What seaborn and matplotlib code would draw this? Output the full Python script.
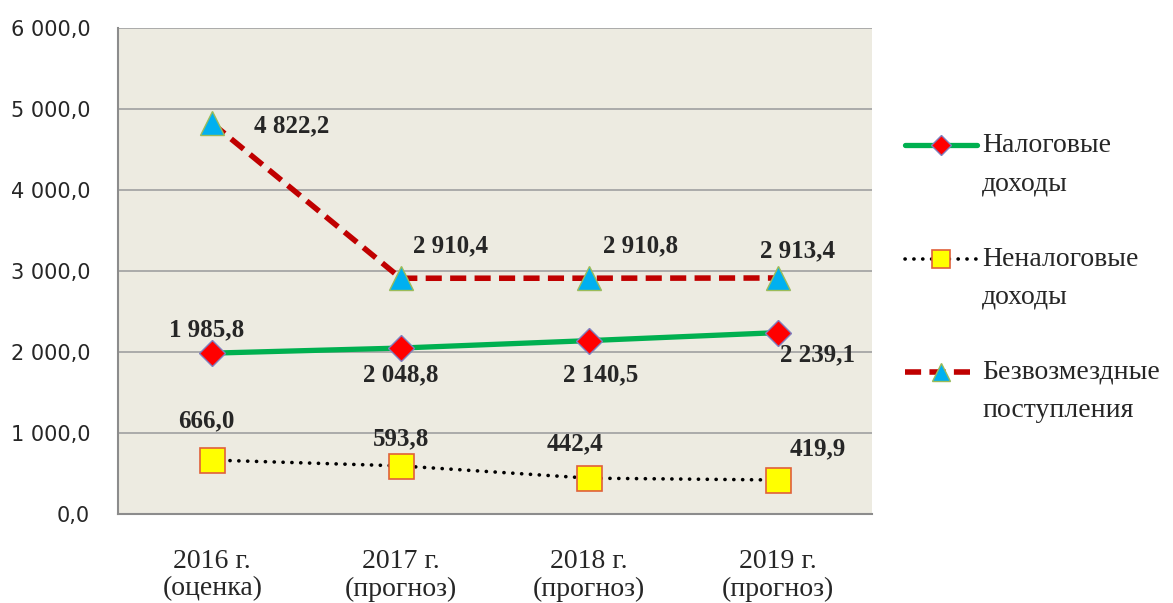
import matplotlib
matplotlib.use('Agg')
import matplotlib.pyplot as plt
from matplotlib.legend_handler import HandlerLine2D
import seaborn as sns
import pandas as pd

categories = ['2016 г.\n(оценка)', '2017 г.\n(прогноз)', '2018 г.\n(прогноз)', '2019 г.\n(прогноз)']
tax_income = [1985.8, 2048.8, 2140.5, 2239.1]
nontax_income = [666.0, 593.8, 442.4, 419.9]
grants = [4822.2, 2910.4, 2910.8, 2913.4]
series_names = ['Налоговые\nдоходы', 'Неналоговые\nдоходы', 'Безвозмездные\nпоступления']

# label offsets in pixels (dx, dy) per point
tax_offsets = [(-6, 23), (0, -27), (11, -34), (40, -22)]
nontax_offsets = [(-6, 39), (0, 27), (-14, 34), (40, 31)]
grant_offsets = [(79, -2), (50, 32), (51, 32), (20, 27)]


def fmt(v):
    return f"{v:,.1f}".replace(',', ' ').replace('.', ',')


class FirstLineHandler(HandlerLine2D):
    """Puts the legend handle at the level of the first label line"""
    def create_artists(self, legend, orig_handle, xdescent, ydescent, width, height, fontsize, trans):
        artists = super().create_artists(legend, orig_handle, xdescent, ydescent, width, height, fontsize, trans)
        for a in artists:
            a.set_ydata([y + 14 for y in a.get_ydata()])
        return artists


df = pd.DataFrame({
    'x': list(range(4)) * 3,
    'value': tax_income + nontax_income + grants,
    'series': [series_names[0]] * 4 + [series_names[1]] * 4 + [series_names[2]] * 4,
})

sns.set_style('white')
plt.rcParams['font.family'] = ['Liberation Serif', 'DejaVu Serif']

fig = plt.figure(figsize=(11.73, 6.03), dpi=100)
ax = fig.add_axes([0.1006, 0.1476, 0.6428, 0.806])
ax.set_facecolor('#EDEBE1')

styles = {
    series_names[0]: dict(color='#00B050', lw=3.8, ls='-', marker='D', ms=13,
                          mfc='#FF0000', mec='#7F7FBF', mew=1.0),
    series_names[1]: dict(color='black', lw=2.6, ls=(0, (0.05, 2.4)), marker='s', ms=18,
                          mfc='#FFFF00', mec='#E0603A', mew=1.2, dash_capstyle='round'),
    series_names[2]: dict(color='#C00000', lw=4.0, ls=(0, (2.9, 1.5)), marker='^', ms=17,
                          mfc='#00B0F0', mec='#9BBB59', mew=1.0),
}

for name in series_names:
    sub = df[df['series'] == name]
    st = styles[name]
    sns.lineplot(data=sub, x='x', y='value', ax=ax, color=st['color'], linewidth=st['lw'],
                 zorder=3, legend=False)
    line = ax.lines[-1]
    line.set_linestyle(st['ls'])
    if 'dash_capstyle' in st:
        line.set_dash_capstyle(st['dash_capstyle'])
    line.set_marker(st['marker'])
    line.set_markersize(st['ms'])
    line.set_markerfacecolor(st['mfc'])
    line.set_markeredgecolor(st['mec'])
    line.set_markeredgewidth(st['mew'])

for vals, offs in [(tax_income, tax_offsets), (nontax_income, nontax_offsets), (grants, grant_offsets)]:
    for i, (v, o) in enumerate(zip(vals, offs)):
        ax.annotate(fmt(v), (i, v), xytext=o, textcoords='offset pixels',
                    ha='center', va='center', fontsize=18, fontweight='bold', zorder=5)

ax.set_xlim(-0.5, 3.5)
ax.set_ylim(0, 6000)
ax.set_yticks(range(0, 6001, 1000))
ax.set_yticklabels([fmt(v) for v in range(0, 6001, 1000)], family='DejaVu Sans', fontsize=15)
ax.set_xticks(range(4))
ax.set_xticklabels(categories, fontsize=20, linespacing=1.15)
ax.set_xticks([-0.5, 0.5, 1.5, 2.5, 3.5], minor=True)
ax.tick_params(axis='x', which='major', length=0, pad=25)
ax.tick_params(axis='x', which='minor', length=9, color='#8C8C8C', width=1.5)
ax.tick_params(axis='y', length=9, color='#8C8C8C', width=1.5, pad=11)
ax.set_xlabel('')
ax.set_ylabel('')
ax.grid(axis='y', color='#A6A6A6', lw=1.3)
ax.set_axisbelow(True)
for s in ['top', 'right']:
    ax.spines[s].set_visible(False)
for s in ['left', 'bottom']:
    ax.spines[s].set_color('#8C8C8C')
    ax.spines[s].set_linewidth(1.5)

handles = ax.get_lines()[:3]
leg = fig.legend(handles, series_names, loc='upper left', bbox_to_anchor=(0.7595, 0.802),
                 frameon=False, fontsize=20, handlelength=2.6, handletextpad=0.18,
                 labelspacing=1.8, borderpad=0, markerscale=0.75,
                 handler_map={h: FirstLineHandler() for h in handles})
for t in leg.get_texts():
    t.set_linespacing(1.7)

fig.savefig('out.png', dpi=100)
